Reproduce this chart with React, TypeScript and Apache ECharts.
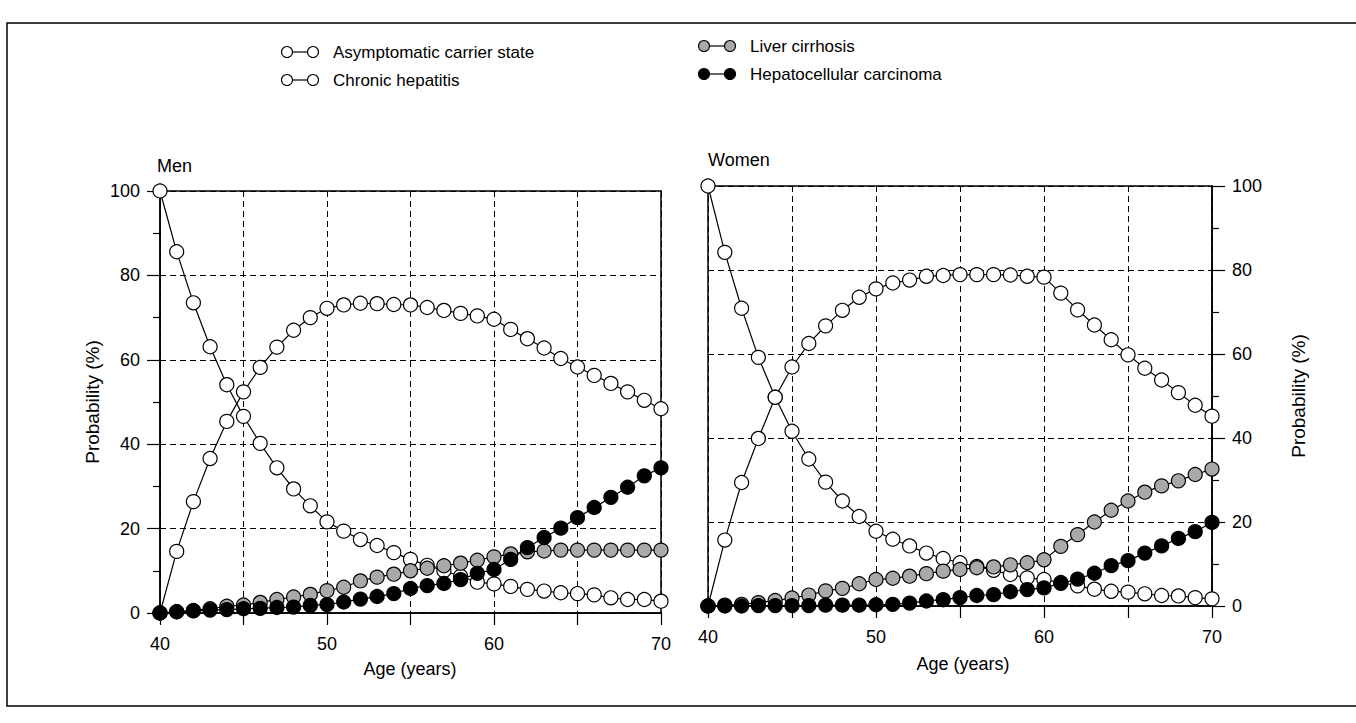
import React, { useEffect, useRef } from "react";
import * as echarts from "echarts";

const FONT = "'Liberation Sans', Arial, Helvetica, sans-serif";

const ages = [40, 41, 42, 43, 44, 45, 46, 47, 48, 49, 50, 51, 52, 53, 54, 55, 56, 57, 58, 59, 60, 61, 62, 63, 64, 65, 66, 67, 68, 69, 70];
const xTicks = [40, 50, 60, 70];
const yTicks = [0, 20, 40, 60, 80, 100];

const menCarrier = [100, 85.6, 73.5, 63.1, 54.1, 46.6, 40.2, 34.4, 29.4, 25.4, 21.6, 19.4, 17.4, 16.0, 14.3, 12.7, 11.3, 10.0, 8.7, 7.3, 6.9, 6.3, 5.6, 5.2, 4.8, 4.6, 4.3, 3.6, 3.2, 3.2, 2.8];
const menHepatitis = [0, 14.6, 26.4, 36.6, 45.4, 52.4, 58.2, 63.0, 67.0, 70.0, 72.2, 73.0, 73.4, 73.3, 73.1, 73.0, 72.4, 71.7, 71.0, 70.4, 69.6, 67.2, 65.0, 62.8, 60.3, 58.3, 56.3, 54.4, 52.4, 50.4, 48.4];
const menCirrhosis = [0, 0.3, 0.6, 1.0, 1.6, 1.9, 2.5, 3.2, 3.8, 4.4, 5.3, 6.1, 7.6, 8.5, 9.2, 10.0, 10.6, 11.2, 11.8, 12.5, 13.3, 14.0, 14.5, 14.7, 14.9, 14.9, 14.9, 14.9, 14.9, 14.9, 14.9];
const menHCC = [0, 0.3, 0.5, 0.7, 0.8, 1.0, 1.1, 1.3, 1.4, 1.8, 2.0, 2.6, 3.3, 3.9, 4.6, 5.8, 6.5, 7.0, 7.9, 9.4, 10.3, 12.7, 15.5, 17.9, 20.1, 22.6, 25.0, 27.4, 29.8, 32.5, 34.4];

const womenCarrier = [100, 84.2, 70.9, 59.2, 49.7, 41.6, 35.0, 29.5, 25.0, 21.3, 17.8, 15.9, 14.3, 12.6, 11.3, 10.3, 9.4, 8.5, 7.5, 6.7, 6.3, 5.6, 4.8, 4.0, 3.5, 3.3, 2.9, 2.5, 2.4, 2.0, 1.7];
const womenHepatitis = [0, 15.7, 29.4, 39.9, 49.7, 56.9, 62.5, 66.7, 70.4, 73.5, 75.5, 76.9, 77.6, 78.5, 78.7, 78.9, 78.9, 78.9, 78.8, 78.5, 78.3, 74.5, 70.5, 66.9, 63.4, 59.8, 56.6, 53.8, 50.8, 47.8, 45.2];
const womenCirrhosis = [0, 0.2, 0.4, 0.8, 1.3, 1.9, 2.6, 3.6, 4.2, 5.3, 6.3, 6.6, 7.1, 7.7, 8.3, 8.7, 9.1, 9.3, 9.8, 10.3, 11.0, 14.2, 17.0, 20.0, 22.8, 25.0, 27.1, 28.6, 29.8, 31.3, 32.6];
const womenHCC = [0, 0, 0, 0.1, 0.1, 0.1, 0.1, 0.2, 0.2, 0.2, 0.3, 0.4, 0.7, 1.2, 1.5, 2.0, 2.5, 2.7, 3.4, 3.9, 4.3, 5.4, 6.4, 7.8, 9.6, 10.8, 12.6, 14.3, 16.1, 17.7, 19.9];

const seriesNames = ["Asymptomatic carrier state", "Chronic hepatitis", "Liver cirrhosis", "Hepatocellular carcinoma"];
const seriesFills = ["#ffffff", "#ffffff", "#a9a9a9", "#000000"];

const menSeries = [menCarrier, menHepatitis, menCirrhosis, menHCC];
const womenSeries = [womenCarrier, womenHepatitis, womenCirrhosis, womenHCC];

export default function App() {
  const ref = useRef<HTMLDivElement>(null);

  useEffect(() => {
    if (!ref.current) return;
    const chart = echarts.init(ref.current, null, { renderer: "svg" });

    const textStyle = { color: "#000", fontSize: 18, fontFamily: FONT };

    const xAxis = (gi: number) => ({
      type: "value",
      gridIndex: gi,
      min: 40,
      max: 70,
      interval: 5,
      axisLine: { show: true, onZero: false, lineStyle: { color: "#000", width: 1.5 } },
      axisTick: { show: true, inside: false, length: 12, lineStyle: { color: "#000", width: 1.2 } },
      axisLabel: {
        ...textStyle,
        margin: 22,
        formatter: (v: number) => (xTicks.includes(v) ? String(v) : ""),
      },
      splitLine: { show: true, lineStyle: { color: "#000", width: 1, type: [6, 4] } },
    });

    const yAxis = (gi: number, pos: string) => ({
      type: "value",
      gridIndex: gi,
      position: pos,
      min: 0,
      max: 100,
      interval: 20,
      axisLine: { show: true, onZero: false, lineStyle: { color: "#000", width: 1.5 } },
      axisTick: { show: true, inside: false, length: 13, lineStyle: { color: "#000", width: 1.2 } },
      minorTick: { show: true, splitNumber: 2, length: 7, lineStyle: { color: "#000", width: 1.2 } },
      axisLabel: {
        ...textStyle,
        margin: 20,
        formatter: (v: number) => (yTicks.includes(v) ? String(v) : ""),
      },
      splitLine: { show: true, lineStyle: { color: "#000", width: 1, type: [6, 4] } },
    });

    const mk = (vals: number[], idx: number, gi: number) => ({
      type: "line",
      name: seriesNames[idx],
      xAxisIndex: gi,
      yAxisIndex: gi,
      data: ages.map((a, i) => [a, vals[i]]),
      symbol: "circle",
      symbolSize: 14,
      showSymbol: true,
      z: 3 + idx,
      lineStyle: { color: "#000", width: 1.2 },
      itemStyle: { color: seriesFills[idx], borderColor: "#000", borderWidth: 1.2 },
      emphasis: { disabled: true },
      silent: true,
    });

    const legendItem = (x: number, y: number, idx: number) => ({
      type: "group",
      children: [
        { type: "line", shape: { x1: x, y1: y, x2: x + 26, y2: y }, style: { stroke: "#000", lineWidth: 1.2 } },
        { type: "circle", shape: { cx: x, cy: y, r: 5.5 }, style: { fill: seriesFills[idx], stroke: "#000", lineWidth: 1.1 } },
        { type: "circle", shape: { cx: x + 26, cy: y, r: 5.5 }, style: { fill: seriesFills[idx], stroke: "#000", lineWidth: 1.1 } },
        {
          type: "text",
          x: x + 46,
          y: y,
          style: { text: seriesNames[idx], fill: "#000", font: `17px ${FONT}`, textVerticalAlign: "middle", textAlign: "left" },
        },
      ],
    });

    const txt = (x: number, y: number, text: string, rotation = 0, align = "center", size = 18) => ({
      type: "text",
      x,
      y,
      rotation,
      style: { text, fill: "#000", font: `${size}px ${FONT}`, textAlign: align, textVerticalAlign: "middle" },
    });

    const option = {
      animation: false,
      backgroundColor: "#fff",
      grid: [
        { left: 160, top: 191, width: 501, height: 422, show: true, borderColor: "#000", borderWidth: 1.5, containLabel: false },
        { left: 708, top: 186, width: 504, height: 420, show: true, borderColor: "#000", borderWidth: 1.5, containLabel: false },
      ],
      xAxis: [xAxis(0), xAxis(1)],
      yAxis: [yAxis(0, "left"), yAxis(1, "right")],
      series: [
        ...menSeries.map((v, i) => mk(v, i, 0)),
        ...womenSeries.map((v, i) => mk(v, i, 1)),
      ],
      graphic: [
        {
          type: "rect",
          shape: { x: 7, y: 23, width: 1370, height: 683 },
          style: { fill: "none", stroke: "#000", lineWidth: 1.5 },
          silent: true,
        },
        legendItem(287, 52, 0),
        legendItem(287, 80, 1),
        legendItem(704, 46, 2),
        legendItem(704, 74, 3),
        txt(157, 166, "Men", 0, "left"),
        txt(708, 160, "Women", 0, "left"),
        txt(92, 402, "Probability (%)", Math.PI / 2, "center", 19),
        txt(1298, 396, "Probability (%)", Math.PI / 2, "center", 19),
        txt(410, 669, "Age (years)"),
        txt(963, 664, "Age (years)"),
      ],
    };

    chart.setOption(option as any);
    return () => chart.dispose();
  }, []);

  return (
    <div
      ref={ref}
      style={{ position: "absolute", left: 0, top: 0, width: 1356, height: 723, background: "#fff" }}
    />
  );
}
